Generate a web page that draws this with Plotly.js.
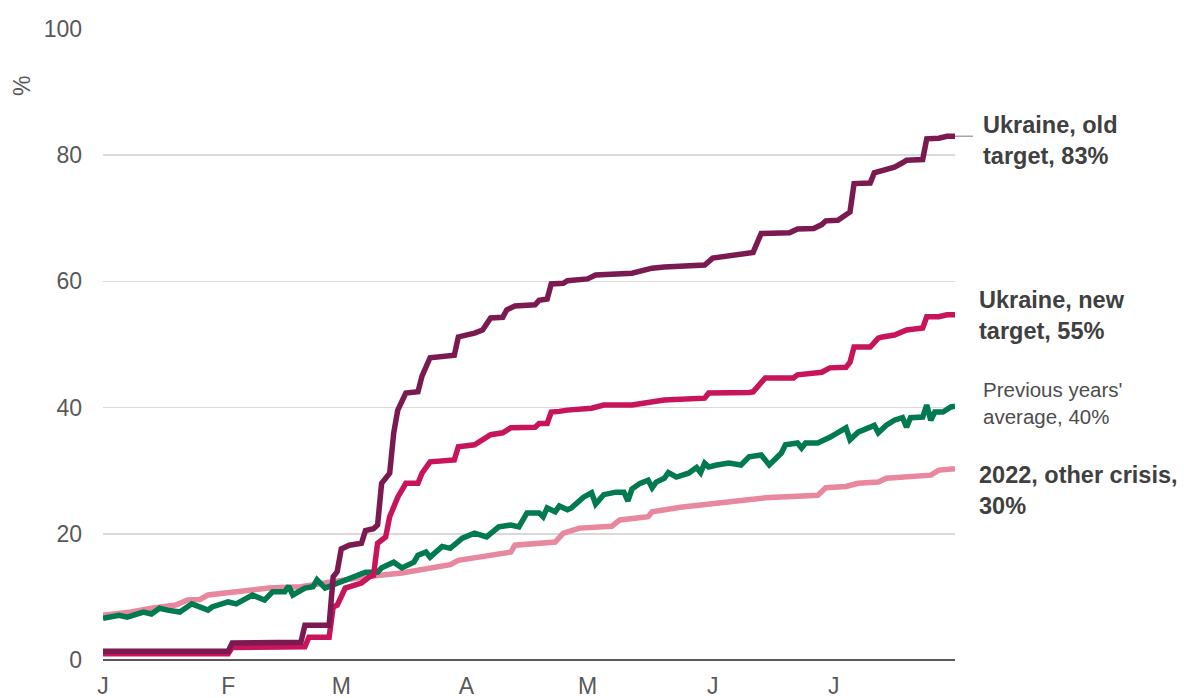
<!DOCTYPE html>
<html>
<head>
<meta charset="utf-8">
<script src="https://cdn.plot.ly/plotly-3.0.1.min.js"></script>
<style>
html,body{margin:0;padding:0;background:#fff;}
#chart{width:1184px;height:698px;}
</style>
</head>
<body>
<div id="chart"></div>
<script>
// Days since 1 January (2023)
const oldTargetDays = [0,31,32,49,50,56,57,58,59,61,64,65,67,68,69,70,71,72,73,75,78,79,81,87,88,92,94,96,99,100,102,107,108,110,111,114,115,120,122,131,134,136,139,149,151,158,160,161,163,170,172,176,178,179,182,184,185,186,190,191,193,196,198,199,203,204,207,209,211];
const oldTargetValues = [1.4,1.4,2.7,2.8,5.5,5.5,13.2,14,17.6,18.2,18.5,20.5,20.8,21.4,28,29,29.6,36,39.6,42.3,42.5,45,47.9,48.3,51.2,51.8,52.3,54.2,54.3,55.5,56.1,56.3,57,57.2,59.6,59.7,60.1,60.4,61,61.3,61.8,62.1,62.3,62.6,63.7,64.2,64.4,64.6,67.6,67.7,68.3,68.4,69,69.6,69.7,70.5,71,75.5,75.6,77.2,77.6,78.1,78.8,79.2,79.3,82.6,82.7,83,83];

const newTargetDays = [0,31,32,50,51,56,57,58,60,64,66,67,68,70,71,73,75,78,79,81,87,88,92,94,96,99,101,107,108,110,111,113,115,121,124,131,135,139,149,150,160,161,164,171,172,178,180,184,185,186,190,192,193,196,199,203,204,207,209,211];
const newTargetValues = [1.0,1.0,2.0,2.1,3.6,3.6,8.4,8.7,11.4,12.2,13.2,13.4,18.5,19.5,22.7,25.8,28,28,29.6,31.4,31.7,33.8,34.1,34.9,35.7,36,36.8,36.9,37.5,37.5,39.3,39.4,39.6,39.9,40.4,40.4,40.9,41.2,41.5,42.3,42.4,42.5,44.7,44.7,45.2,45.6,46.3,46.4,47.2,49.6,49.6,51,51.2,51.5,52.3,52.6,54.4,54.4,54.7,54.7];

const prevAvgDays = [0,4,6,8,10,12,14,16,19,22,26,27,31,33,36,37,40,42,45,46,47,50,52,53,55,57,59,62,64,65,68,69,72,74,77,78,80,81,84,86,89,92,95,98,101,103,105,108,109,110,112,113,115,116,119,121,122,124,127,129,130,131,133,135,136,137,139,140,142,145,147,148,149,150,152,155,158,160,163,165,168,169,172,173,174,177,180,182,184,185,187,190,191,192,194,196,198,199,200,203,204,205,206,208,210,211];
const prevAvgValues = [6.6,7.1,6.8,7.3,7.6,7.3,8.2,7.9,7.6,8.9,7.9,8.4,9.2,8.9,10,10.3,9.5,10.8,10.8,11.7,10.3,11.4,11.6,12.7,11.4,11.9,12.4,13,13.5,13.9,13.9,14.6,15.5,14.6,15.5,16.6,17.1,16.3,18,17.7,19.3,20.1,19.5,21.1,21.4,21.1,23.3,23.3,22.7,24.1,23.5,24.4,23.8,24.1,25.8,26.5,24.7,26.2,26.6,26.6,25.2,27.1,28,28.5,27.3,28.2,28.8,29.7,29,29.6,30.5,29.7,31.2,30.6,30.9,31.2,30.9,32.2,32.5,30.9,32.8,34.1,34.4,33.6,34.4,34.4,35.3,36,36.8,34.9,36.1,36.9,37.2,36,37.2,38,38.4,36.9,38.4,38.5,40.4,38,39.3,39.3,40.1,40.2];

const otherCrisisDays = [0,7,12,18,21,24,26,32,41,49,57,65,74,82,86,88,94,101,102,112,114,118,126,128,135,136,143,155,164,177,179,184,187,192,194,205,207,211];
const otherCrisisValues = [7.1,7.6,8.2,8.7,9.5,9.6,10.3,10.8,11.4,11.6,12.4,13.2,13.8,14.6,15.1,15.8,16.3,17.1,18.2,18.7,20.1,20.9,21.2,22.2,22.7,23.5,24.2,25,25.7,26.1,27.3,27.5,28,28.2,28.8,29.3,30.1,30.3];

const monthTickDates = ['2023-01-01','2023-02-01','2023-03-01','2023-04-01','2023-05-01','2023-06-01','2023-07-01'];
const monthTickLabels = ['J','F','M','A','M','J','J'];
const yTickValues = [0,20,40,60,80,100];

const seriesLabels = {
  old: 'Ukraine, old<br>target, 83%',
  nw: 'Ukraine, new<br>target, 55%',
  avg: "Previous years'<br>average, 40%",
  crisis: '2022, other crisis,<br>30%'
};

function toDates(days){
  const base = Date.UTC(2023,0,1);
  return days.map(d => new Date(base + d*86400000).toISOString().slice(0,10));
}

const C_OLD = '#7b1a50', C_NEW = '#c8145a', C_AVG = '#007a4e', C_CRISIS = '#e8879d';
const LW = 5.5;

const traces = [
  {x: toDates(otherCrisisDays), y: otherCrisisValues, mode:'lines', line:{color:C_CRISIS, width:LW}, hoverinfo:'skip'},
  {x: toDates(prevAvgDays), y: prevAvgValues, mode:'lines', line:{color:C_AVG, width:LW}, hoverinfo:'skip'},
  {x: toDates(newTargetDays), y: newTargetValues, mode:'lines', line:{color:C_NEW, width:LW}, hoverinfo:'skip'},
  {x: toDates(oldTargetDays), y: oldTargetValues, mode:'lines', line:{color:C_OLD, width:LW}, hoverinfo:'skip'}
];

const FONT = 'Liberation Sans, Arial, sans-serif';
const plotW = 1184 - 103 - 229;
const plotH = 698 - 29 - 38;
function px2paperX(px){ return (px - 103)/plotW; }
function px2paperY(py){ return (698 - 38 - py)/plotH; }

const lastOld = oldTargetValues[oldTargetValues.length-1];

const layout = {
  width:1184, height:698,
  margin:{l:103, r:229, t:29, b:38},
  paper_bgcolor:'#fff', plot_bgcolor:'#fff',
  showlegend:false,
  font:{family:FONT, color:'#595959', size:23},
  xaxis:{
    type:'date',
    range:['2023-01-01','2023-07-31'],
    tickvals: monthTickDates, ticktext: monthTickLabels,
    showgrid:false, zeroline:false, showline:false,
    ticks:'', ticklabelstandoff:10,
    tickfont:{family:FONT, size:23, color:'#595959'},
    fixedrange:true
  },
  yaxis:{
    range:[0,100],
    tickvals: yTickValues,
    showgrid:true, gridcolor:'#d9d9d9', gridwidth:1.5,
    zeroline:true, zerolinecolor:'#595959', zerolinewidth:2,
    showline:false, ticks:'', ticklabelstandoff:20,
    tickfont:{family:FONT, size:23, color:'#595959'},
    fixedrange:true
  },
  shapes:[
    {type:'line', xref:'paper', yref:'y', x0:1.0, x1:px2paperX(973), y0:lastOld, y1:lastOld,
     line:{color:'#a6a6a6', width:1.5}}
  ],
  annotations:[
    {xref:'paper', yref:'paper', x:px2paperX(22), y:px2paperY(86), text:'%', textangle:-90,
     showarrow:false, font:{family:FONT, size:23, color:'#595959'}, xanchor:'center', yanchor:'middle'},
    {xref:'paper', yref:'paper', x:px2paperX(981), y:px2paperY(140), text:'<b>'+seriesLabels.old+'</b>',
     showarrow:false, align:'left', xanchor:'left', yanchor:'middle', font:{family:FONT, size:23.5, color:'#404040'}},
    {xref:'paper', yref:'paper', x:px2paperX(977), y:px2paperY(315), text:'<b>'+seriesLabels.nw+'</b>',
     showarrow:false, align:'left', xanchor:'left', yanchor:'middle', font:{family:FONT, size:23.5, color:'#404040'}},
    {xref:'paper', yref:'paper', x:px2paperX(981), y:px2paperY(403), text:seriesLabels.avg,
     showarrow:false, align:'left', xanchor:'left', yanchor:'middle', font:{family:FONT, size:20.5, color:'#4d4d4d'}},
    {xref:'paper', yref:'paper', x:px2paperX(977), y:px2paperY(490), text:'<b>'+seriesLabels.crisis+'</b>',
     showarrow:false, align:'left', xanchor:'left', yanchor:'middle', font:{family:FONT, size:23.5, color:'#404040'}}
  ]
};

Plotly.newPlot('chart', traces, layout, {staticPlot:true, displayModeBar:false});
</script>
</body>
</html>
